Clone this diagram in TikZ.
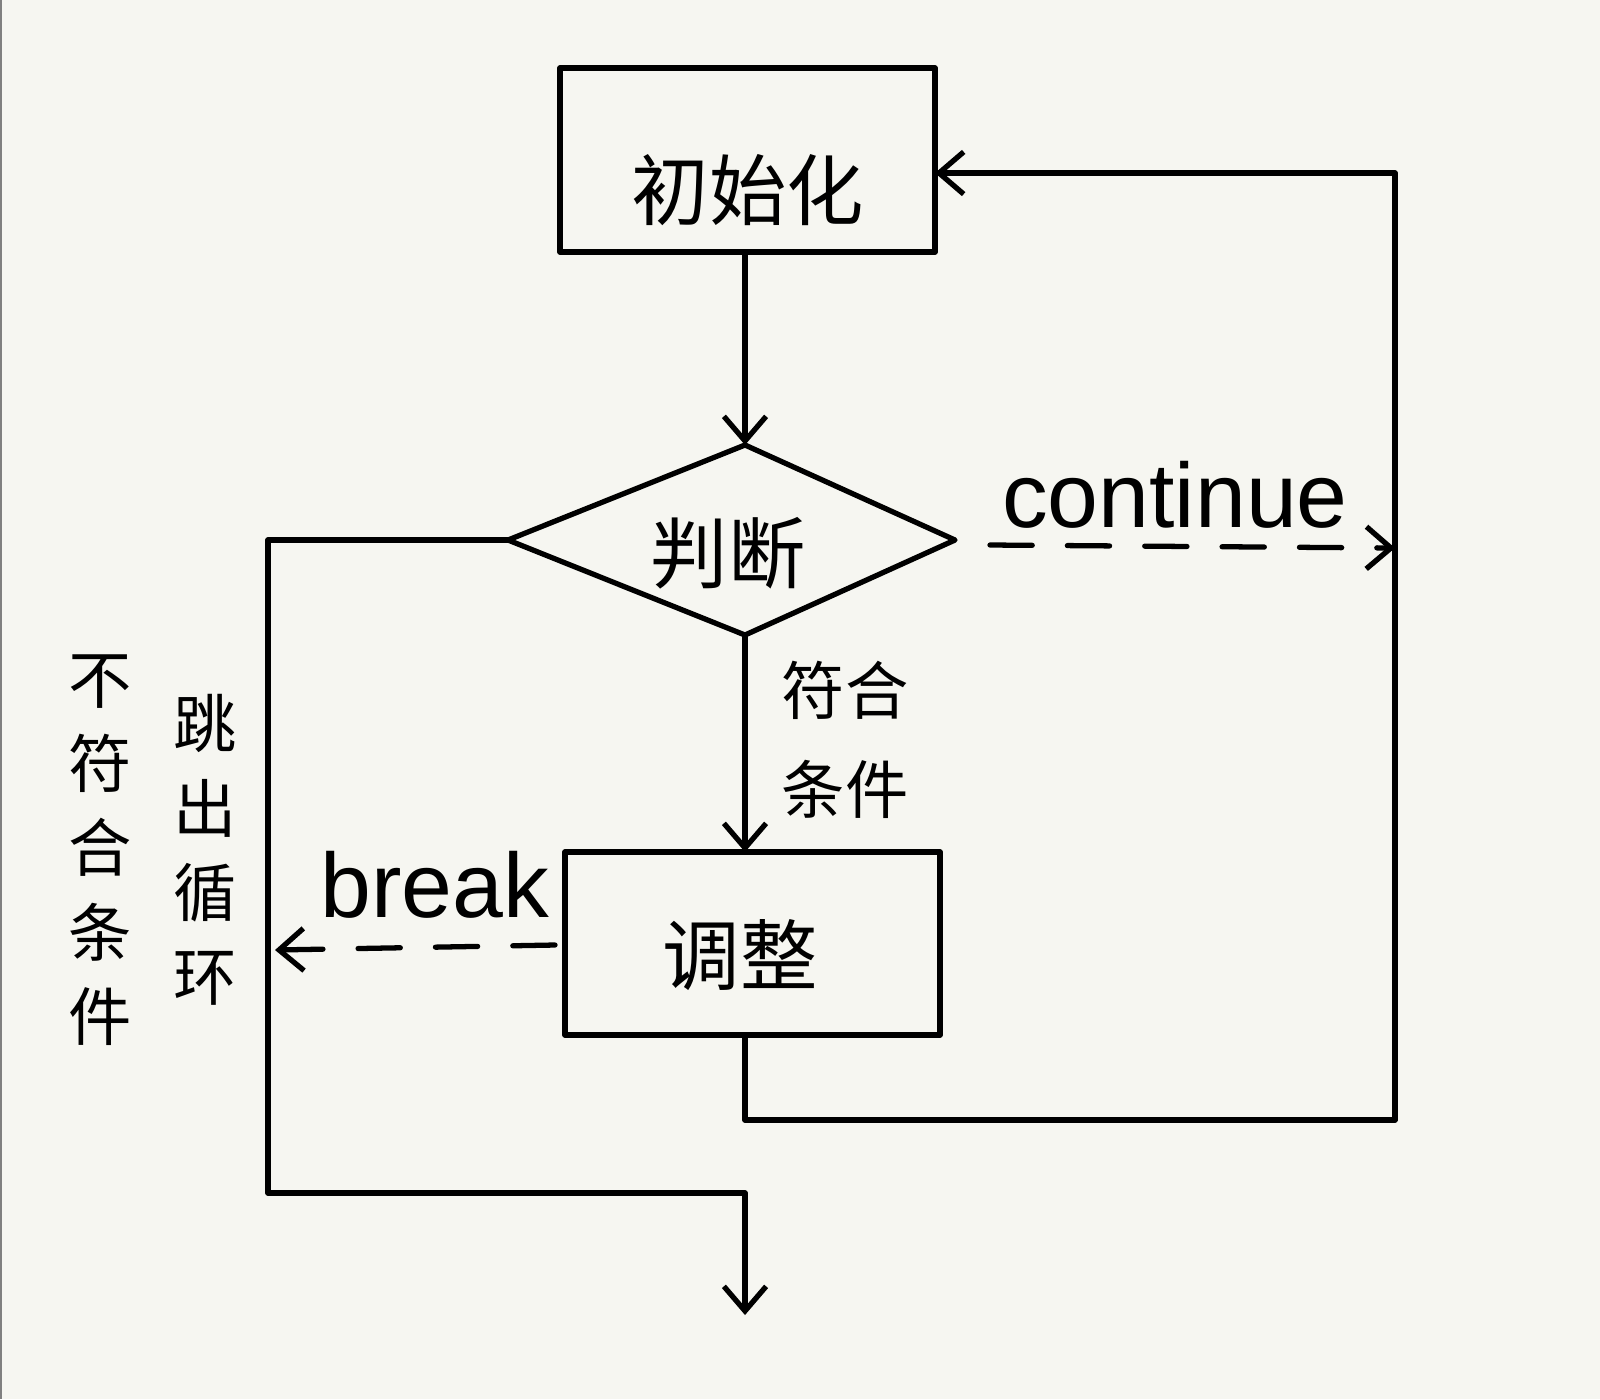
\documentclass[tikz,border=0pt]{standalone}
\usepackage{fontspec}
\setmainfont{Liberation Sans}
\newfontfamily\cjk{Noto Sans CJK SC}
\usetikzlibrary{shapes.geometric,arrows.meta}
\definecolor{bg}{HTML}{F6F6F1}
\begin{document}
\begin{tikzpicture}[x=0.01cm,y=-0.01cm,
  ln/.style={line width=1.5pt,line cap=round,line join=round},
  arr/.style={ln,-{Straight Barb[length=7pt,width=12pt,line width=1.5pt]}},
  dsh/.style={arr,dash pattern=on 12pt off 10pt},
  lbl/.style={font=\cjk\fontsize{18}{24}\selectfont},
  big/.style={font=\cjk\fontsize{22}{24}\selectfont}]
\fill[bg] (0,0) rectangle (1600,1399);
\useasboundingbox (0,0) rectangle (1600,1399);
\draw[gray,line width=0.8pt] (1,0) -- (1,1399);
\draw[ln] (560,68) rectangle (935,252);
\node[big] (init) at (748,190) {初始化};
\coordinate (ib) at (745,252);
\coordinate (ir) at (935,173);
\draw[ln] (508,540) -- (745,445) -- (955,540) -- (745,635) -- cycle;
\coordinate (dt) at (745,445);
\coordinate (dl) at (508,540);
\coordinate (dr) at (990,545);
\coordinate (db) at (745,635);
\node[big] (judge) at (728,553) {判断};
\draw[ln] (565,852) rectangle (940,1035);
\node[big] (adj) at (740,955) {调整};
\coordinate (at) at (745,852);
\coordinate (ab) at (745,1035);
\coordinate (al) at (555,945);
\draw[arr] (ib) -- (dt);
\draw[arr] (db) -- (at);
\node[font=\cjk\fontsize{18}{28}\selectfont,align=center] (yes) at (845,740) {符合\\条件};
\draw[dsh] (dr) -- (1395,548);
\node[font=\fontsize{26}{28}\selectfont] (cont) at (1175,495) {continue};
\coordinate (rb) at (1395,1120);
\draw[ln] (ab) -- (745,1120) -- (rb);
\draw[arr] (rb) -- (1395,173) -- (ir);
\draw[dsh] (al) -- (275,950);
\node[font=\fontsize{26}{28}\selectfont] (brk) at (435,885) {break};
\coordinate (out) at (745,1315);
\draw[arr] (dl) -- (268,540) -- (268,1193) -- (745,1193) -- (out);
\node[lbl,align=center] (nc) at (100,850) {不\\符\\合\\条\\件};
\node[lbl,align=center] (jump) at (205,850) {跳\\出\\循\\环};
\end{tikzpicture}
\end{document}
